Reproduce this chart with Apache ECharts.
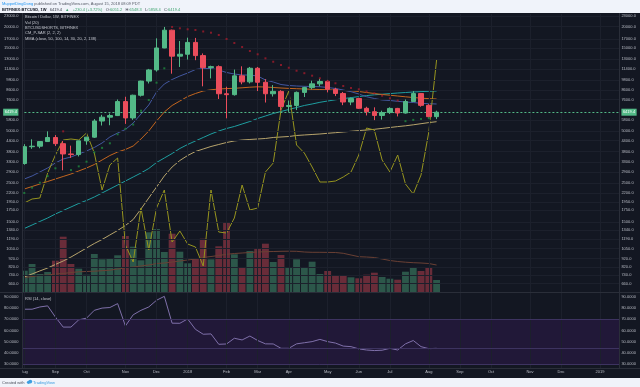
<!DOCTYPE html>
<html><head><meta charset="utf-8">
<script src="https://cdn.jsdelivr.net/npm/echarts@6/dist/echarts.min.js"></script>
<style>html,body{margin:0;padding:0;background:#f0f3fa}#c{width:640px;height:387px}</style>
</head><body><div id="c"></div>
<script>
const dates = ['2017-08-07','2017-08-14','2017-08-21','2017-08-28','2017-09-04','2017-09-11','2017-09-18','2017-09-25','2017-10-02','2017-10-09','2017-10-16','2017-10-23','2017-10-30','2017-11-06','2017-11-13','2017-11-20','2017-11-27','2017-12-04','2017-12-11','2017-12-18','2017-12-25',
'2018-01-01','2018-01-08','2018-01-15','2018-01-22','2018-01-29','2018-02-05','2018-02-12','2018-02-19','2018-02-26','2018-03-05','2018-03-12','2018-03-19','2018-03-26','2018-04-02','2018-04-09','2018-04-16','2018-04-23','2018-04-30','2018-05-07','2018-05-14','2018-05-21','2018-05-28','2018-06-04','2018-06-11','2018-06-18','2018-06-25','2018-07-02','2018-07-09','2018-07-16','2018-07-23','2018-07-30','2018-08-06','2018-08-13',
'2018-08-20','2018-08-27','2018-09-03','2018-09-10','2018-09-17','2018-09-24','2018-10-01','2018-10-08','2018-10-15','2018-10-22','2018-10-29','2018-11-05','2018-11-12','2018-11-19','2018-11-26','2018-12-03','2018-12-10','2018-12-17','2018-12-24','2018-12-31','2019-01-07','2019-01-14','2019-01-21'];

const open  = [3252,4063,4090,4350,4590,4230,3690,3660,4390,4610,5710,6010,6140,7390,5950,8040,9700,11250,15050,19050,13500,13850,16200,13600,11600,11750,8200,8100,10400,9600,11500,9550,8200,8460,6930,7020,8350,8900,9350,9650,8700,8230,7350,7700,6760,6460,6150,6390,6750,6350,7400,8220,7030,6051.2];
const high  = [4200,4480,4370,4980,4740,4380,4120,4400,4630,5860,6200,6310,7600,7880,8100,9750,11400,17100,19890,19200,16500,17250,17200,14000,11900,11950,9000,11300,11800,11700,11700,9950,9200,8600,7500,8450,9000,9750,9990,9850,8880,8400,7800,7780,6900,6850,6550,6850,6800,7600,8500,8250,7150,6548.3];
const low   = [3200,3950,3980,4330,4100,2970,3500,3570,4170,4560,5380,5400,6100,5500,5800,7900,9400,11000,15000,10700,11700,12900,12800,9050,10050,7650,5920,8000,9300,9400,8500,7300,7900,6580,6450,6600,7850,8700,9050,8350,7950,7050,7050,6700,6150,5780,5820,6270,6070,6300,7350,6900,5980,5858.4];
const close = [4063,4090,4350,4590,4230,3690,3660,4390,4610,5710,6010,6140,7390,5950,8040,9700,11250,15050,19050,13500,13850,16200,13600,11600,11750,8200,8100,10400,9600,11500,9550,8200,8460,6930,7020,8350,8900,9350,9650,8700,8230,7350,7700,6760,6460,6150,6390,6750,6350,7400,8220,7030,6051.2,6419.4];

const volume   = [213,280,180,200,313,553,280,233,173,380,327,330,367,560,453,317,597,630,400,583,403,287,337,533,327,457,690,377,250,410,433,483,300,370,240,327,240,303,180,210,170,170,147,137,173,193,150,133,123,203,240,210,240,120];
const volumeMA = [145,155,165,170,180,185,195,202,205,208,213,218,230,240,250,260,270,285,290,300,310,320,330,345,355,365,377,385,390,395,400,403,405,407,408,407,400,397,397,396,395,387,370,353,350,345,330,315,305,298,293,290,285,270];

const mma1 = [2647,2755,2905,3063,3273,3451,3544,3688,3838,4020,4268,4621,4873,5104,5563,6269,7063,8392,9332,9906,10376,10798,11309,11461,11461,11236,10869,10655,10515,10515,10376,9841,9583,9270,9148,9088,9050,9028,9000,8909,8792,8618,8426,8172,7885,7699,7548,7498,7419,7350,7301,7225,7186,7158];
const mma2 = [2318,2396,2477,2561,2647,2737,2829,2944,3063,3208,3406,3615,3787,3915,4101,4500,5004,5713,6438,7017,7448,7906,8227,8504,8641,8734,8780,8815,8874,8945,8992,8968,8909,8850,8803,8768,8734,8698,8676,8641,8595,8561,8527,8448,8336,8227,8118,8043,7959,7874,7802,7729,7689,7648];
const mma3 = [1373,1438,1507,1578,1664,1743,1826,1913,1991,2085,2199,2318,2444,2578,2718,2867,3043,3295,3497,3712,3968,4183,4383,4591,4809,5004,5172,5311,5490,5675,5906,6105,6311,6481,6654,6833,7017,7158,7321,7448,7568,7689,7791,7896,8001,8086,8151,8216,8282,8336,8392,8437,8471,8504];
const mma4 = [722,751,782,813,852,892,940,998,1060,1125,1187,1260,1337,1429,1547,1779,2058,2380,2755,3104,3384,3615,3812,3941,4074,4183,4296,4383,4441,4471,4500,4530,4591,4621,4652,4714,4746,4777,4809,4854,4893,4938,4984,5030,5071,5117,5178,5241,5304,5360,5432,5512,5593,5660];

const shorts = [13350,13950,14100,17850,20550,22800,22950,22800,23850,20850,15300,19050,20100,7050,4500,12600,6300,12600,15300,7500,9150,7200,6750,3900,15300,9000,8850,11100,16050,12300,12600,18000,19350,27300,30150,22050,20850,18750,16500,16500,16650,17250,18000,20550,24600,24300,19800,18000,20550,16200,14700,17550,24000,34800];

const sarUp   = [2200,2360,2520,2750,3050,null,2980,3130,3330,3770,4000,4250,4790,5150,5450,6550,7550,9500,11490,null,null,null,null,null,null,null,null,null,null,null,null,null,null,null,null,null,null,null,null,null,null,null,null,null,null,null,null,null,null,5700,5800,5870,5930,null];
const sarDown = [null,null,null,null,null,4980,null,null,null,null,null,null,null,null,null,null,null,null,null,19890,19540,19280,19100,18730,18430,17880,16960,16080,15250,14460,13840,13120,12540,12010,11580,11130,10770,10420,10070,9710,9420,9090,8850,8700,8450,8250,7990,7720,7500,null,null,null,null,null];

const rsi = [79,79,81,82,72,63,63,69.5,71,78,80,80.5,84,64,74,78,81,87,90.5,66.5,66.4,70.3,61,56.6,56.9,47.6,47.9,53,51.5,55,51,48,47.9,44,44,48,49,50,52,50,48.7,46,45.5,43.5,42.5,42,42.3,44,42.5,48,51,45.5,43.7,44];

const priceTicks = [23000,20000,17000,15000,13000,11400,9800,8600,7600,5800,5000,4400,3800,3300,2900,2500,2200,1950,1750,1500,1340,1190,1050,920,820,740,660];
const rsiTicks = [30,40,50,60,70,80,90];
const rsiBands = [70, 44.5, 30];
const lastPrice = 6419.4;

const UP = '#53b987', DOWN = '#eb4d5c';
const monthNames = ['Jan','Feb','Mar','Apr','May','Jun','Jul','Aug','Sep','Oct','Nov','Dec'];
const isMonthStart = i => i === 0 || dates[i].slice(5,7) !== dates[i-1].slice(5,7);
const labelFor = d => { const m = +d.slice(5,7); return m === 1 ? d.slice(0,4) : monthNames[m-1]; };
const monthStarts = dates.filter((d,i) => isMonthStart(i));

const candles = open.map((o,i) => [o, close[i], low[i], high[i]]);
const volBars = volume.map((v,i) => ({value: v, itemStyle: {color: close[i] >= open[i] ? 'rgba(83,185,135,0.4)' : 'rgba(235,77,92,0.4)'}}));

const FONT = 'Liberation Sans';
const axisLbl = {fontSize: 4, color: '#b9bcc5', fontFamily: FONT};
const priceFmt = v => Math.abs(v - lastPrice) < 1e-6 ? '{p|' + lastPrice.toFixed(1) + '}' : v.toFixed(1);
const priceRich = {p: {backgroundColor: UP, color: '#ffffff', fontSize: 4, padding: [1.5, 1.5], fontFamily: FONT}};

function priceAxis(pos) {
  return {type: 'log', logBase: 10, gridIndex: 0, position: pos, min: 591.3, max: 23617, z: 10,
    axisLine: {show: false}, axisTick: {show: false}, splitLine: {show: false},
    axisLabel: Object.assign({customValues: priceTicks.concat([lastPrice]), formatter: priceFmt, margin: 2, rich: priceRich}, axisLbl)};
}
function rsiAxis(pos) {
  return {type: 'value', gridIndex: 1, position: pos, min: 26.4, max: 93.5, z: 10,
    axisLine: {show: false}, axisTick: {show: false}, splitLine: {show: false},
    axisLabel: Object.assign({customValues: rsiTicks, formatter: v => v.toFixed(4), margin: 2}, axisLbl)};
}
const gridLine = {color: '#1c202c', width: 1, type: 'solid'};
const noSym = ['none','none'];

const legendTexts = ['Bitcoin / Dollar, 1W, BITFINEX','Vol (20)','BTCUSDSHORTS, BITFINEX','CM_P-SAR (2, 2, 2)','MMA (close, 50, 100, 14, 30, 20, 2, 138)'];

const option = {
  backgroundColor: '#131722',
  animation: false,
  grid: [
    {left: 20.4, width: 599, top: 14, height: 278, outerBoundsMode: 'none'},
    {left: 20.4, width: 599, top: 293, height: 75, outerBoundsMode: 'none'}
  ],
  xAxis: [
    {type: 'category', gridIndex: 0, data: dates, axisLine: {show: false}, axisTick: {show: false}, axisLabel: {show: false}, splitLine: {show: false}},
    {type: 'category', gridIndex: 1, data: dates, axisLine: {show: false}, axisTick: {show: false}, splitLine: {show: false},
      axisLabel: Object.assign({interval: (i) => isMonthStart(i), formatter: v => labelFor(v), margin: 2}, axisLbl)}
  ],
  yAxis: [
    priceAxis('left'),
    {type: 'value', gridIndex: 0, min: 0, max: 2780, show: false},
    {type: 'value', gridIndex: 0, min: 0, max: 41700, show: false},
    priceAxis('right'),
    rsiAxis('left'),
    rsiAxis('right')
  ],
  series: [
    {type: 'line', xAxisIndex: 0, yAxisIndex: 0, data: [], z: 0, silent: true,
      markLine: {silent: true, symbol: noSym, label: {show: false}, lineStyle: gridLine, animation: false,
        data: monthStarts.map(d => ({xAxis: d})).concat(priceTicks.map(v => ({yAxis: v})))}},
    {type: 'bar', name: 'Vol', xAxisIndex: 0, yAxisIndex: 1, data: volBars, barCategoryGap: '12%', z: 1},
    {type: 'line', name: 'VolMA', xAxisIndex: 0, yAxisIndex: 1, data: volumeMA, symbol: 'none', lineStyle: {color: '#6a4034', width: 1}, z: 4},
    {type: 'line', name: 'MMA4', xAxisIndex: 0, yAxisIndex: 0, data: mma4, symbol: 'none', lineStyle: {color: '#b7a46c', width: 1}, z: 4},
    {type: 'line', name: 'MMA3', xAxisIndex: 0, yAxisIndex: 0, data: mma3, symbol: 'none', lineStyle: {color: '#1e9ea0', width: 1}, z: 4},
    {type: 'line', name: 'MMA2', xAxisIndex: 0, yAxisIndex: 0, data: mma2, symbol: 'none', lineStyle: {color: '#c4661f', width: 1}, z: 4},
    {type: 'line', name: 'MMA1', xAxisIndex: 0, yAxisIndex: 0, data: mma1, symbol: 'none', lineStyle: {color: '#4357a0', width: 1}, z: 4},
    {type: 'line', name: 'Shorts', xAxisIndex: 0, yAxisIndex: 2, data: shorts, symbol: 'none', lineStyle: {color: '#96941f', width: 1}, z: 4},
    {type: 'candlestick', name: 'BTCUSD', xAxisIndex: 0, yAxisIndex: 0, data: candles, barWidth: 5, z: 5,
      itemStyle: {color: UP, color0: DOWN, borderColor: UP, borderColor0: DOWN, borderWidth: 1},
      markLine: {silent: true, symbol: noSym, label: {show: false}, animation: false,
        lineStyle: {color: UP, type: [2, 2], width: 1}, data: [{yAxis: lastPrice}]}},
    {type: 'scatter', name: 'SAR up', xAxisIndex: 0, yAxisIndex: 0, data: sarUp, symbol: 'rect', symbolSize: 2, itemStyle: {color: '#1f8a3f'}, z: 6},
    {type: 'scatter', name: 'SAR down', xAxisIndex: 0, yAxisIndex: 0, data: sarDown, symbol: 'rect', symbolSize: 2, itemStyle: {color: '#a11c2c'}, z: 6},
    {type: 'line', name: 'RSI', xAxisIndex: 1, yAxisIndex: 4, data: rsi, symbol: 'none', lineStyle: {color: '#7f70aa', width: 1}, z: 4,
      markArea: {silent: true, itemStyle: {color: '#211838'}, data: [[{yAxis: 70}, {yAxis: 30}]]},
      markLine: {silent: true, symbol: noSym, label: {show: false}, animation: false, lineStyle: gridLine,
        data: monthStarts.map(d => ({xAxis: d})).concat(rsiBands.map(v => ({yAxis: v, lineStyle: {color: '#3d3360', type: 'solid', width: 1}})))}}
  ],
  graphic: [
    {type: 'rect', shape: {x: 0, y: 0, width: 640, height: 13}, style: {fill: '#f0f3fa'}, z: 1},
    {type: 'rect', shape: {x: 0, y: 378, width: 640, height: 9}, style: {fill: '#f0f3fa'}, z: 1},
    {type: 'rect', shape: {x: 0, y: 13, width: 22.5, height: 365}, style: {fill: '#131722'}, z: 8},
    {type: 'line', shape: {x1: 22.5, y1: 13, x2: 22.5, y2: 368}, style: {stroke: '#2a2e39', lineWidth: 1}, z: 9},
    {type: 'line', shape: {x1: 619.5, y1: 13, x2: 619.5, y2: 368}, style: {stroke: '#2a2e39', lineWidth: 1}, z: 9},
    {type: 'line', shape: {x1: 0, y1: 292.5, x2: 640, y2: 292.5}, style: {stroke: '#2a2e39', lineWidth: 1}, z: 9},
    {type: 'line', shape: {x1: 0, y1: 368.5, x2: 640, y2: 368.5}, style: {stroke: '#2a2e39', lineWidth: 1}, z: 9},
    {type: 'text', x: 2, y: 4, z: 9, style: {text: '{a|MuppetDingDong}{b| published on TradingView.com, August 15, 2018 08:09 PDT}', verticalAlign: 'middle',
      rich: {a: {fill: '#2196f3', fontSize: 4, fontFamily: FONT}, b: {fill: '#555a66', fontSize: 4, fontFamily: FONT}}}},
    {type: 'text', x: 2, y: 9.6, z: 9, style: {text: '{a|BITFINEX:BTCUSD, 1W} {b|6419.4} {g|▲} {g|+230.4 (+3.72%)} {b|O:}{g|6051.2} {b|H:}{g|6548.3} {b|L:}{g|5858.4} {b|C:}{g|6419.4}', verticalAlign: 'middle',
      rich: {a: {fill: '#131722', fontSize: 4, fontWeight: 'bold', fontFamily: FONT}, b: {fill: '#333844', fontSize: 4, fontFamily: FONT}, g: {fill: '#3fa56f', fontSize: 4, fontFamily: FONT}}}},
    ...legendTexts.map((t, k) => ({type: 'text', x: 25, y: 17.3 + k * 5.3, z: 9, style: {text: t, fill: '#c3c6ce', fontSize: 4, fontFamily: FONT, verticalAlign: 'middle'}})),
    {type: 'text', x: 25, y: 298.5, z: 9, style: {text: 'RSI (14, close)', fill: '#c3c6ce', fontSize: 4, fontFamily: FONT, verticalAlign: 'middle'}},
    {type: 'text', x: 2, y: 382.5, z: 9, style: {text: 'Created with', fill: '#4a4f5c', fontSize: 4, fontFamily: FONT, verticalAlign: 'middle'}},
    {type: 'circle', shape: {cx: 28.5, cy: 382.3, r: 1.6}, style: {fill: '#3c9ee0'}, z: 9},
    {type: 'circle', shape: {cx: 30.3, cy: 381.6, r: 1.9}, style: {fill: '#3c9ee0'}, z: 9},
    {type: 'text', x: 33, y: 382.5, z: 9, style: {text: 'TradingView', fill: '#3c9ee0', fontSize: 4, fontFamily: FONT, verticalAlign: 'middle'}}
  ]
};
const chart = echarts.init(document.getElementById('c'));
chart.setOption(option);
</script></body></html>
